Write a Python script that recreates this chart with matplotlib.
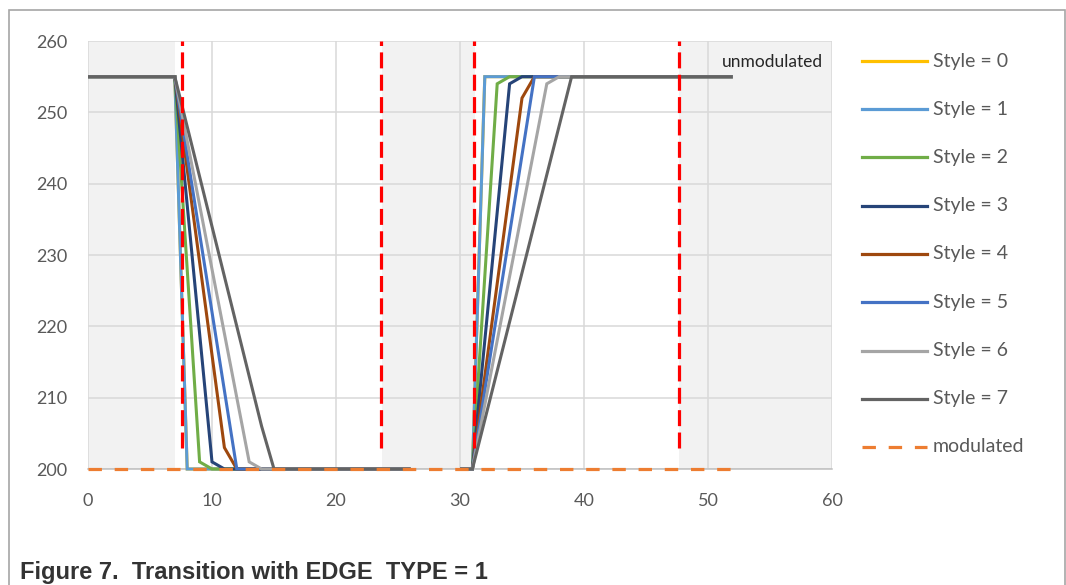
import numpy as np
import matplotlib
matplotlib.use('Agg')
import matplotlib.pyplot as plt
from matplotlib.lines import Line2D
from matplotlib.patches import Rectangle

plt.rcParams['font.family'] = ['Lato', 'DejaVu Sans']

# 스타일별 데이터 (하강 구간 / 상승 구간)
labels = ['Style = 0', 'Style = 1', 'Style = 2', 'Style = 3',
          'Style = 4', 'Style = 5', 'Style = 6', 'Style = 7']
colors = ['#FFC000', '#5B9BD5', '#70AD47', '#264478',
          '#9E480E', '#4472C4', '#A5A5A5', '#636363']

fallX = [[0, 7, 8, 26], [0, 7, 8, 26], [0, 7, 9, 10, 26], [0, 7, 10, 11, 26],
         [0, 7, 11, 12, 26], [0, 7, 12, 26], [0, 7, 13, 14, 26], [0, 7, 14, 15, 26]]
fallY = [[255, 255, 200, 200], [255, 255, 200, 200], [255, 255, 201, 200, 200],
         [255, 255, 201, 200, 200], [255, 255, 203, 200, 200], [255, 255, 200, 200],
         [255, 255, 201, 200, 200], [255, 255, 206, 200, 200]]
riseX = [[30, 31, 32, 52], [30, 31, 32, 52], [30, 31, 33, 34, 52], [30, 31, 34, 35, 52],
         [30, 31, 35, 36, 52], [30, 31, 36, 52], [30, 31, 37, 38, 52], [30, 31, 39, 52]]
riseY = [[200, 200, 255, 255], [200, 200, 255, 255], [200, 200, 254, 255, 255],
         [200, 200, 254, 255, 255], [200, 200, 252, 255, 255], [200, 200, 255, 255],
         [200, 200, 254, 255, 255], [200, 200, 255, 255]]

modX = [0, 52]
modY = [200, 200]

markerX = [7.6, 23.6, 31.1, 47.7]       # 빨간 점선 위치
markerY = [203, 260]
bands = [(0, 7), (23.7, 31.2), (47.7, 60)]  # 회색 배경 구간

textColor = '#595959'

fig = plt.figure(figsize=(10.66, 5.85), dpi=100)
ax = fig.add_axes([88 / 1066, 1 - 469 / 585, (832 - 88) / 1066, (469 - 41) / 585])

for a, b in bands:
    ax.axvspan(a, b, color='#F2F2F2', lw=0, zorder=0)

ax.set_xlim(0, 60)
ax.set_ylim(200, 260)
ax.set_xticks(np.arange(0, 61, 10))
ax.set_yticks(np.arange(200, 261, 10))
ax.grid(True, color='#D9D9D9', lw=1.1, zorder=1)
ax.set_axisbelow(True)
for s in ['top', 'right', 'left']:
    ax.spines[s].set_visible(False)
ax.spines['bottom'].set_color('#BFBFBF')
ax.spines['bottom'].set_linewidth(1.1)
ax.tick_params(length=0, labelsize=13, colors=textColor)
ax.tick_params(axis='x', pad=17)
ax.tick_params(axis='y', pad=15)

# 스타일 라인
for i in range(len(labels)):
    x = fallX[i] + [np.nan] + riseX[i]
    y = fallY[i] + [np.nan] + riseY[i]
    ax.plot(x, y, color=colors[i], lw=2.2, zorder=3, solid_joinstyle='miter',
            solid_capstyle='butt', clip_on=False)

# modulated
ax.plot(modX, modY, color='#ED7D31', lw=2.3, dashes=(4.2, 4.0), zorder=4, clip_on=False)

# 빨간 점선
for mx in markerX:
    ax.plot([mx, mx], markerY, color='#FF0000', lw=2.3, dashes=(5, 2), zorder=5, clip_on=False)

ax.text(51.1, 257, 'unmodulated', fontsize=12.5, color='#262626', va='center', ha='left')

# 범례 (수동)
legLabels = labels + ['modulated']
legColors = colors + ['#ED7D31']
for i, (lab, c) in enumerate(zip(legLabels, legColors)):
    yy = 1 - (61 + 48.25 * i) / 585
    if lab == 'modulated':
        fig.add_artist(Line2D([862 / 1066, 927 / 1066], [yy, yy], color=c, lw=2.3, dashes=(4.2, 4.0)))
    else:
        fig.add_artist(Line2D([862 / 1066, 927 / 1066], [yy, yy], color=c, lw=2.3))
    fig.text(933 / 1066, yy, lab, fontsize=14, color=textColor, va='center', ha='left')

# 외곽 테두리
fig.add_artist(Rectangle((9 / 1066, -0.1), (1065 - 9) / 1066, 1.1 - 10 / 585,
                         transform=fig.transFigure, fill=False, edgecolor='#A6A6A6', lw=1.2))

fig.text(20 / 1066, 1 - 579 / 585, 'Figure 7.  Transition with EDGE  TYPE = 1',
         family=['Liberation Sans', 'DejaVu Sans'], fontweight='bold', fontsize=17,
         color='#333333', va='baseline', ha='left')

fig.savefig('out.png', dpi=100)
